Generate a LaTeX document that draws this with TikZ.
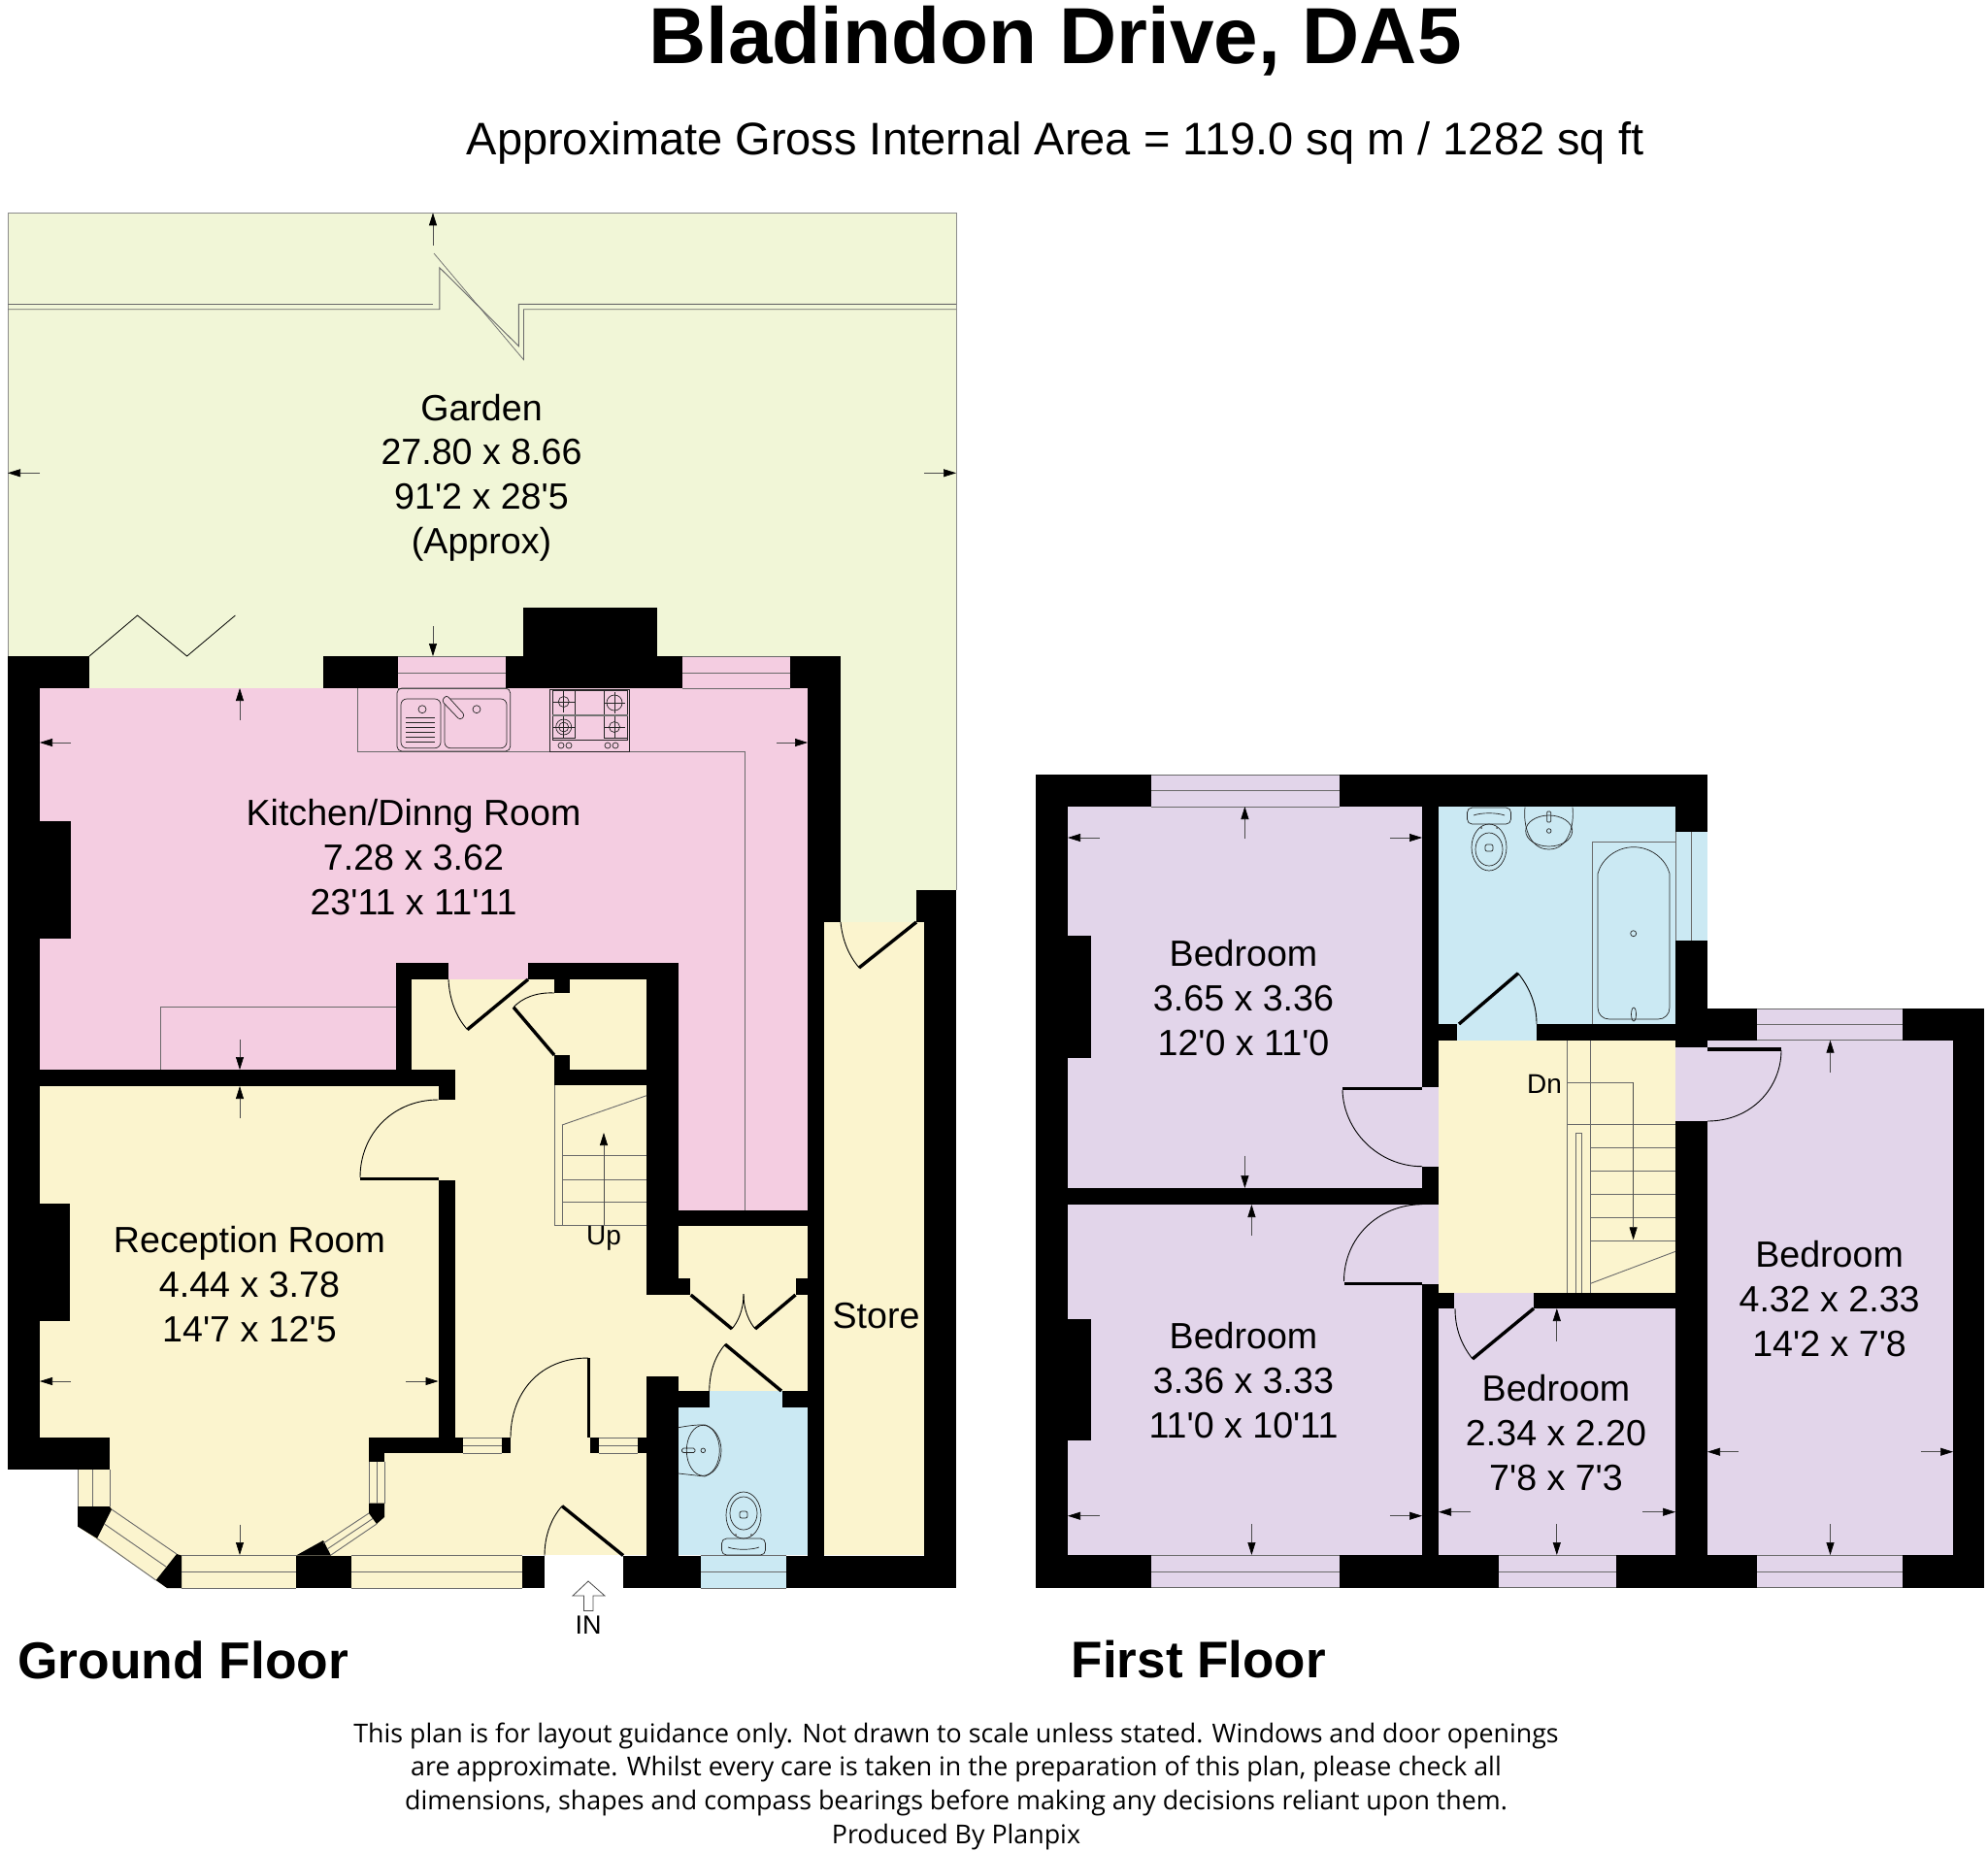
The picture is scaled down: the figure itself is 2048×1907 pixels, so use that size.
\documentclass[tikz,border=0pt]{standalone}
\usepackage{fontspec}
\usetikzlibrary{arrows.meta}
\setmainfont{Liberation Sans}
\newfontfamily\arialplain{Liberation Sans}
\newfontfamily\footfont{Open Sans}
\definecolor{gardenc}{HTML}{F1F6D7}
\definecolor{pinkc}{HTML}{F4CDE1}
\definecolor{yellowc}{HTML}{FBF4CE}
\definecolor{bluec}{HTML}{CBE9F3}
\definecolor{purplec}{HTML}{E2D5EA}
\definecolor{linec}{HTML}{6A6A6A}
\tikzset{
  wallfill/.style={fill=black},
  winline/.style={draw=linec,line width=0.9pt},
  thinblk/.style={draw=black!85,line width=0.7pt},
  leaf/.style={draw=black,line width=3.4pt},
  swing/.style={draw=black,line width=0.9pt},
  dimline/.style={draw=black!70,line width=0.7pt,-{Stealth[length=13pt,width=8pt,inset=0pt,color=black]}},
  fixture/.style={draw=black!85,line width=0.7pt},
  roomlabel/.style={font=\arialplain\fontsize{37.6}{45.7}\selectfont,align=center,inner sep=0pt,text=black},
}
\newcommand{\wl}[4]{\fill[wallfill] (#1,#2) rectangle (#3,#4);}
\newcommand{\flr}[5]{\fill[#1] (#2,#3) rectangle (#4,#5);}
\newcommand{\dimarr}[4]{\draw[dimline] (#1,#2) -- (#3,#4);}
\newcommand{\wcpan}{%
  \draw[fixture,rounded corners=5pt] (-22.5,0) rectangle (22.5,17);
  \draw[fixture] (-16,8) .. controls (-8,5) and (8,5) .. (16,8);
  \draw[fixture] (0,41) ellipse (18 and 24);
  \draw[fixture] (0,43) ellipse (14 and 17);
  \draw[fixture,rounded corners=2pt] (-4,38) rectangle (4,45);
  \fill[black!70] (-8,21) circle (1);
  \fill[black!70] (8,21) circle (1);
}
\newcommand{\burner}[3]{%
  \draw[fixture] (#1,#2) circle (#3);
  \draw[fixture] (#1-11,#2) -- (#1+11,#2);
  \draw[fixture] (#1,#2-11) -- (#1,#2+11);
}
\begin{document}
\begin{tikzpicture}[x=1pt,y=-1pt]
\useasboundingbox (0,0) rectangle (2048,1907);
\fill[white] (0,0) rectangle (2048,1907);

% ===== GROUND FLOOR floors =====
\flr{gardenc}{8}{219}{985}{950}
\draw[draw=black!45,line width=1pt] (8,676) -- (8,219) -- (985,219) -- (985,917);
\flr{pinkc}{41}{709}{832}{1247}
\flr{pinkc}{409.5}{676}{521}{709}
\flr{pinkc}{703}{676}{814}{709}
\flr{yellowc}{41}{1119}{666}{1481}
\flr{yellowc}{424}{1009}{666}{1119}
\flr{pinkc}{462}{992}{544}{1009}
\flr{yellowc}{396}{1481}{666}{1602}
\flr{yellowc}{666}{1334}{832}{1418}
\flr{yellowc}{699}{1263}{832}{1433}
\flr{yellowc}{849}{950}{952}{1602}
\fill[yellowc] (80,1481) -- (396,1481) -- (396,1603) -- (305,1603) -- (305,1636) -- (172,1636) -- (80,1572.6) -- cycle;
\flr{yellowc}{362}{1602}{538}{1636}
\flr{bluec}{699}{1450}{832}{1602}
\flr{bluec}{730.7}{1433}{806}{1450}
\flr{bluec}{721.7}{1602}{810}{1636}
\flr{gardenc}{866}{917}{944}{950}
\flr{gardenc}{92}{676}{333}{709}

% ===== GROUND FLOOR walls =====
\wl{8}{676}{41}{1514}
\wl{8}{676}{92}{709}
\wl{333}{676}{409.5}{709}
\wl{521}{676}{703}{709}
\wl{539}{626}{677}{676}
\wl{814}{676}{866}{709}
\wl{832}{676}{866}{950}
\wl{832}{950}{849}{1636}
\wl{41}{846}{73}{967}
\wl{41}{1240}{72}{1361}
\wl{408}{992}{424}{1119}
\wl{408}{992}{462}{1009}
\wl{544}{992}{699}{1009}
\wl{41}{1102}{469}{1119}
\wl{451.5}{1119}{469}{1133}
\wl{451.5}{1215.5}{469}{1481}
\wl{371}{1212.7}{451.5}{1215.7}
\wl{666}{992}{699}{1334}
\wl{571}{1009}{587}{1023}
\wl{571}{1087}{587}{1118}
\wl{571}{1102}{666}{1118}
\wl{699}{1247}{832}{1263}
\wl{699}{1317}{711}{1334}
\wl{819.5}{1317}{832}{1334}
\wl{666}{1418}{699}{1636}
\wl{699}{1433}{730.7}{1450}
\wl{806}{1433}{832}{1450}
\wl{380}{1481}{477}{1497}
\wl{516.6}{1481}{526}{1497}
\wl{608}{1481}{617}{1497}
\wl{657}{1481}{666}{1497}
\wl{380}{1497}{396}{1505.6}
\wl{8}{1481}{113}{1514}
\wl{305}{1602.5}{362}{1636}
\wl{537.6}{1602.5}{561}{1636}
\wl{642}{1602.5}{721.7}{1636}
\wl{810}{1602.5}{985}{1636}
\wl{952}{950}{985}{1602.5}
\wl{944}{917}{985}{950}
% bay corner pieces
\fill[black] (80,1552) -- (113,1552) -- (115,1555) -- (100,1585) -- (80,1572.6) -- cycle;
\fill[black] (182,1601) -- (187,1602.5) -- (187,1636) -- (172,1636) -- (160.7,1628) -- cycle;
\fill[black] (380,1548.5) -- (396,1548.5) -- (396,1563) -- (388,1570) -- (380,1559) -- cycle;
\fill[black] (333,1587) -- (341,1602.5) -- (305,1602.5) -- cycle;

% ===== GROUND FLOOR windows =====
\draw[winline] (409.5,676) -- (521,676) (409.5,693) -- (521,693) (409.5,709) -- (521,709);
\draw[winline] (703,676) -- (814,676) (703,693) -- (814,693) (703,709) -- (814,709);
\draw[winline] (187,1602.5) -- (305,1602.5) (187,1619) -- (305,1619) (187,1636) -- (305,1636);
\draw[winline] (362,1602.5) -- (537.6,1602.5) (362,1619) -- (537.6,1619) (362,1636) -- (537.6,1636);
\draw[winline] (721.7,1602.5) -- (810,1602.5) (721.7,1619) -- (810,1619) (721.7,1636) -- (810,1636);
\draw[winline] (80,1514) -- (80,1552) (95.7,1514) -- (95.7,1552) (113,1514) -- (113,1552);
\draw[winline] (115,1555) -- (182,1601) (107.5,1570) -- (171,1614) (100,1585) -- (160.7,1628);
\draw[winline] (380,1505.6) -- (380,1548.5) (388,1505.6) -- (388,1548.5) (396,1505.6) -- (396,1548.5);
\draw[winline] (380,1559) -- (333,1590) (384,1564.5) -- (337,1596) (388,1570) -- (341,1602);
\draw[winline] (477,1481) -- (516.6,1481) (477,1489) -- (516.6,1489) (477,1497) -- (516.6,1497);
\draw[winline] (617,1481) -- (657,1481) (617,1489) -- (657,1489) (617,1497) -- (657,1497);
\draw[winline] (165,1102) -- (165,1037.7) -- (408,1037.7);
\draw[winline] (368,709) -- (368,774) -- (767,774) -- (767,1247);

% ===== kitchen fittings =====
\draw[fixture,rounded corners=5pt] (409,709) rectangle (525.7,774);
\draw[fixture,rounded corners=6pt] (413,720) rectangle (454,770.7);
\draw[fixture,rounded corners=6pt] (458,720) rectangle (522,770.7);
\draw[fixture] (435,730.7) circle (4);
\draw[fixture] (491,730.7) circle (4);
\foreach \yy in {739,744,749,754,759,764} {\draw[fixture] (418,\yy) -- (448,\yy);}
\draw[fixture,fill=pinkc,rounded corners=3pt] (455,722) -- (460,716) -- (479,737) -- (474,742) -- cycle;
\draw[fixture] (566.7,710) rectangle (648,774);
\draw[fixture] (569,711) rectangle (646.7,762.7);
\draw[fixture] (569,711) rectangle (592,760);
\draw[fixture] (622,711) rectangle (646,760);
\draw[draw=black!55,line width=2pt] (569,736.7) -- (646.7,736.7);
\burner{580.7}{723}{5.5}
\burner{633}{724}{8}
\burner{580.7}{749}{8}
\draw[fixture] (580.7,749) circle (5);
\burner{633}{749}{5.5}
\foreach \xx in {578,586,626,634} {\draw[fixture] (\xx,768) ellipse (3 and 3);}

% ===== door leaves and swings (ground) =====
\draw[draw=black,line width=0.8pt] (92,676) -- (141.6,634) -- (192.6,676) -- (242.4,634);
\draw[swing] (462,1009) .. controls (463,1030) and (470,1048) .. (481.5,1060.7);
\draw[leaf] (481.5,1060.7) -- (544,1009);
\draw[swing] (571,1023) .. controls (553,1022) and (538,1028) .. (529,1037.7);
\draw[leaf] (529,1037.7) -- (571,1087);
\draw[swing] (451.5,1133) .. controls (405,1133) and (371,1168) .. (371,1213);
\draw[swing] (526,1481) .. controls (526,1436) and (555,1399) .. (606,1399);
\draw[draw=black,line width=2.6pt] (606.5,1399) -- (606.5,1481);
\draw[swing] (561,1602.5) .. controls (561,1582) and (568,1564) .. (579,1551.6);
\draw[leaf] (579,1551.6) -- (642,1602.5);
\draw[leaf] (711.7,1334) -- (754,1369);
\draw[leaf] (819.5,1334) -- (778,1369);
\draw[swing] (754,1369) .. controls (760,1362) and (766,1350) .. (766,1333);
\draw[swing] (778,1369) .. controls (772,1362) and (766,1350) .. (766,1333);
\draw[leaf] (747,1385) -- (805,1433);
\draw[swing] (730.7,1433) .. controls (731,1412) and (737,1397) .. (747,1385);
\draw[swing] (866,950) .. controls (868,970) and (875,985) .. (885,997);
\draw[leaf] (885,997) -- (944,950);

% ===== stairs (ground) =====
\draw[winline] (571,1118) -- (571,1262) -- (666,1262);
\draw[winline] (579,1159) -- (579,1262);
\draw[winline] (579,1159) -- (666,1128.7);
\foreach \yy in {1190.7,1215,1238.5} {\draw[winline] (579,\yy) -- (666,\yy);}
\dimarr{622}{1262}{622}{1167}

% ===== garden break lines =====
\draw[winline] (8,313.3) -- (446.4,313.3);
\draw[winline] (8,318.7) -- (452.8,318.7) -- (452.8,275.7) -- (534.4,356.7) -- (534.4,313.3) -- (985,313.3);
\draw[winline,line width=0.7pt] (447,261) -- (539.5,370.7) -- (539.5,318.7) -- (985,318.7);

% ===== ground dimension arrows =====
\dimarr{446}{252.7}{446}{219.3}
\dimarr{446}{645}{446}{676}
\dimarr{41}{487.3}{8}{487.3}
\dimarr{952}{487.3}{985}{487.3}
\dimarr{247}{742}{247}{709}
\dimarr{73}{765}{41}{765}
\dimarr{800}{765}{832}{765}
\dimarr{247}{1070.7}{247}{1102}
\dimarr{247}{1152}{247}{1119}
\dimarr{73}{1423}{41}{1423}
\dimarr{418}{1423}{451.5}{1423}
\dimarr{247}{1570.7}{247}{1602}
% entrance arrow
\draw[draw=black!70,line width=0.8pt,fill=white] (606,1629) -- (623,1644) -- (611,1644) -- (611,1659.5) -- (601.4,1659.5) -- (601.4,1644) -- (590,1644) -- cycle;

% ===== WC ground =====
\draw[fixture] (699,1470.7) .. controls (708,1469) and (718,1467.5) .. (726.7,1468) .. controls (738,1472) and (743,1484) .. (743,1494) .. controls (743,1506) and (738,1517) .. (726,1521) -- (699,1518);
\draw[fixture] (724.3,1494.3) ellipse (17 and 26);
\draw[fixture] (724.3,1494.3) circle (2.3);
\draw[fixture,rounded corners=1.5pt] (702.5,1492) rectangle (716,1496.5);
\begin{scope}[shift={(766,1602)},yscale=-1]
\wcpan
\end{scope}

% ===== FIRST FLOOR floors =====
\flr{purplec}{1100}{831}{1465}{1224}
\flr{purplec}{1186}{798}{1379.5}{831}
\flr{purplec}{1465}{1120}{1482}{1202}
\flr{purplec}{1100}{1241}{1465}{1602}
\flr{purplec}{1186}{1602}{1379.5}{1636}
\flr{purplec}{1465}{1241}{1482}{1331}
\flr{purplec}{1482}{1348}{1726}{1602}
\flr{purplec}{1544}{1602}{1665}{1636}
\flr{purplec}{1498}{1331.7}{1580}{1348}
\flr{purplec}{1759}{1071.7}{2012}{1602}
\flr{purplec}{1810}{1039}{1960}{1072}
\flr{purplec}{1810}{1602}{1960}{1636}
\flr{purplec}{1726}{1079}{1759}{1155}
\flr{yellowc}{1482}{1071.7}{1726}{1331.7}
\flr{bluec}{1482}{831}{1726}{1055}
\flr{bluec}{1501}{1055}{1583}{1071.7}
\flr{bluec}{1726}{857}{1759}{969}

% ===== FIRST FLOOR walls =====
\wl{1067}{798}{1100}{1636}
\wl{1067}{798}{1186}{831}
\wl{1379.5}{798}{1759}{831}
\wl{1726}{831}{1759}{857}
\wl{1726}{969}{1759}{1079}
\wl{1726}{1155}{1759}{1636}
\wl{1759}{1039}{1810}{1071.7}
\wl{1960}{1039}{2044}{1071.7}
\wl{2012}{1039}{2044}{1636}
\wl{1465}{831}{1482}{1120}
\wl{1465}{1202}{1482}{1241}
\wl{1465}{1323}{1482}{1636}
\wl{1100}{1224}{1482}{1241}
\wl{1100}{964}{1123.6}{1090}
\wl{1100}{1359}{1123.6}{1484}
\wl{1482}{1331.7}{1498}{1348}
\wl{1580}{1331.7}{1726}{1348}
\wl{1482}{1055}{1501}{1071.7}
\wl{1583}{1055}{1726}{1071.7}
\wl{1067}{1602}{1186}{1636}
\wl{1379.5}{1602}{1544}{1636}
\wl{1665}{1602}{1810}{1636}
\wl{1960}{1602}{2044}{1636}
\wl{1759}{1079}{1835}{1082.5}
\wl{1383}{1120}{1465}{1123.3}
\wl{1384.5}{1320.5}{1465}{1323.5}

% ===== first floor windows =====
\draw[winline] (1186,798) -- (1379.5,798) (1186,814.7) -- (1379.5,814.7) (1186,831) -- (1379.5,831);
\draw[winline] (1186,1602) -- (1379.5,1602) (1186,1619) -- (1379.5,1619) (1186,1635.7) -- (1379.5,1635.7);
\draw[winline] (1544,1602) -- (1665,1602) (1544,1619) -- (1665,1619) (1544,1635.7) -- (1665,1635.7);
\draw[winline] (1810,1602) -- (1960,1602) (1810,1619) -- (1960,1619) (1810,1635.7) -- (1960,1635.7);
\draw[winline] (1810,1039) -- (1960,1039) (1810,1055) -- (1960,1055) (1810,1071.7) -- (1960,1071.7);
\draw[winline] (1726,857) -- (1726,969) (1742.3,857) -- (1742.3,969);

% ===== first floor door swings =====
\draw[swing] (1383,1123) .. controls (1384,1165) and (1420,1201.7) .. (1465,1201.7);
\draw[swing] (1465,1240.7) .. controls (1420,1241) and (1384.5,1275) .. (1384.5,1320);
\draw[swing] (1835,1082) .. controls (1835,1120) and (1805,1155) .. (1759,1155);
\draw[leaf] (1503,1055) -- (1564,1002.7);
\draw[swing] (1564,1002.7) .. controls (1576,1018) and (1583,1035) .. (1583,1055);
\draw[leaf] (1580,1348) -- (1517,1400);
\draw[swing] (1517,1400) .. controls (1505,1385) and (1499,1368) .. (1499,1348);

% ===== first floor stairs =====
\draw[winline] (1614.5,1071.7) -- (1614.5,1331.7);
\draw[winline] (1638.5,1071.7) -- (1638.5,1331.7);
\draw[winline] (1614.5,1115) -- (1682.6,1115);
\draw[winline] (1614.5,1158.3) -- (1726,1158.3);
\foreach \yy in {1182.7,1206.7,1230.7,1254.7,1278.7} {\draw[winline] (1638.5,\yy) -- (1726,\yy);}
\draw[winline] (1638.5,1322.3) -- (1726,1289.3);
\draw[winline] (1623.3,1331.7) -- (1623.3,1167.3) -- (1629.6,1167.3) -- (1629.6,1331.7);
\dimarr{1682.6}{1115}{1682.6}{1277.3}

% ===== bathroom fittings =====
\draw[winline] (1640,1055) -- (1640,867) -- (1726,867);
\draw[fixture] (1646,900) .. controls (1650,885) and (1665,872.7) .. (1683,872.7) .. controls (1701,872.7) and (1716,885) .. (1720,900) -- (1720,1038) .. controls (1720,1045) and (1715,1050) .. (1708,1050) -- (1658,1050) .. controls (1651,1050) and (1646,1045) .. (1646,1038) -- cycle;
\draw[fixture] (1682.7,961.7) circle (3);
\draw[fixture] (1683,1045) ellipse (2.5 and 7);
\draw[fixture] (1571,831.7) .. controls (1569,850) and (1575,875) .. (1595.7,875) .. controls (1616,875) and (1622,850) .. (1620,831.7);
\draw[fixture] (1595.7,856) ellipse (24 and 16);
\draw[fixture] (1595.7,856) circle (2.3);
\draw[fixture,rounded corners=1pt] (1593.7,836) rectangle (1597.7,847);
\begin{scope}[shift={(1534,832)}]
\wcpan
\end{scope}

% ===== first floor dimension arrows =====
\dimarr{1282.4}{864}{1282.4}{831}
\dimarr{1132.5}{863}{1100}{863}
\dimarr{1431.8}{863}{1465}{863}
\dimarr{1282.4}{1190.7}{1282.4}{1224}
\dimarr{1289.4}{1273}{1289.4}{1241}
\dimarr{1132.5}{1561.7}{1100}{1561.7}
\dimarr{1431.8}{1561.7}{1465}{1561.7}
\dimarr{1289.4}{1570}{1289.4}{1602}
\dimarr{1603.8}{1381.7}{1603.8}{1348}
\dimarr{1515}{1557.7}{1482}{1557.7}
\dimarr{1692}{1557.7}{1726}{1557.7}
\dimarr{1603.8}{1570}{1603.8}{1602}
\dimarr{1885.5}{1105}{1885.5}{1071.7}
\dimarr{1791}{1495.7}{1759}{1495.7}
\dimarr{1978.7}{1495.7}{2012}{1495.7}
\dimarr{1885.5}{1570}{1885.5}{1602}

% ===== text =====
\node[inner sep=0pt,font=\bfseries\fontsize{81.9}{90}\selectfont] (title) at (1087,42) {Bladindon Drive, DA5};
\node[inner sep=0pt,font=\fontsize{47}{55}\selectfont] (subtitle) at (1087,147) {Approximate Gross Internal Area = 119.0 sq m / 1282 sq ft};
\node[roomlabel] (garden) at (496,492) {Garden\\27.80 x 8.66\\91'2 x 28'5\\(Approx)};
\node[roomlabel] (kitchen) at (426,883) {Kitchen/Dinng Room\\7.28 x 3.62\\23'11 x 11'11};
\node[roomlabel] (reception) at (257,1323) {Reception Room\\4.44 x 3.78\\14'7 x 12'5};
\node[roomlabel] (store) at (902.5,1356) {Store};
\node[roomlabel] (bedA) at (1281,1028) {Bedroom\\3.65 x 3.36\\12'0 x 11'0};
\node[roomlabel] (bedB) at (1281,1422) {Bedroom\\3.36 x 3.33\\11'0 x 10'11};
\node[roomlabel] (bedC) at (1603,1476) {Bedroom\\2.34 x 2.20\\7'8 x 7'3};
\node[roomlabel] (bedD) at (1884.6,1338) {Bedroom\\4.32 x 2.33\\14'2 x 7'8};
\node[inner sep=0pt,font=\fontsize{28}{30}\selectfont] (up) at (622,1276) {Up};
\node[inner sep=0pt,font=\fontsize{28}{30}\selectfont] (dn) at (1591,1117) {Dn};
\node[inner sep=0pt,font=\fontsize{27}{30}\selectfont] (in) at (606,1674) {IN};
\node[inner sep=0pt,font=\bfseries\fontsize{53.4}{60}\selectfont,anchor=west] (gf) at (18,1710) {Ground Floor};
\node[inner sep=0pt,font=\bfseries\fontsize{53}{60}\selectfont,anchor=west] (ff) at (1103.6,1710) {First Floor};
\node[inner sep=0pt,align=center,font=\footfont\fontsize{26.8}{34.7}\selectfont] (foot) at (985,1840) {This plan is for layout guidance only. Not drawn to scale unless stated. Windows and door openings\\are approximate. Whilst every care is taken in the preparation of this plan, please check all\\dimensions, shapes and compass bearings before making any decisions reliant upon them.\\Produced By Planpix};
\end{tikzpicture}
\end{document}
